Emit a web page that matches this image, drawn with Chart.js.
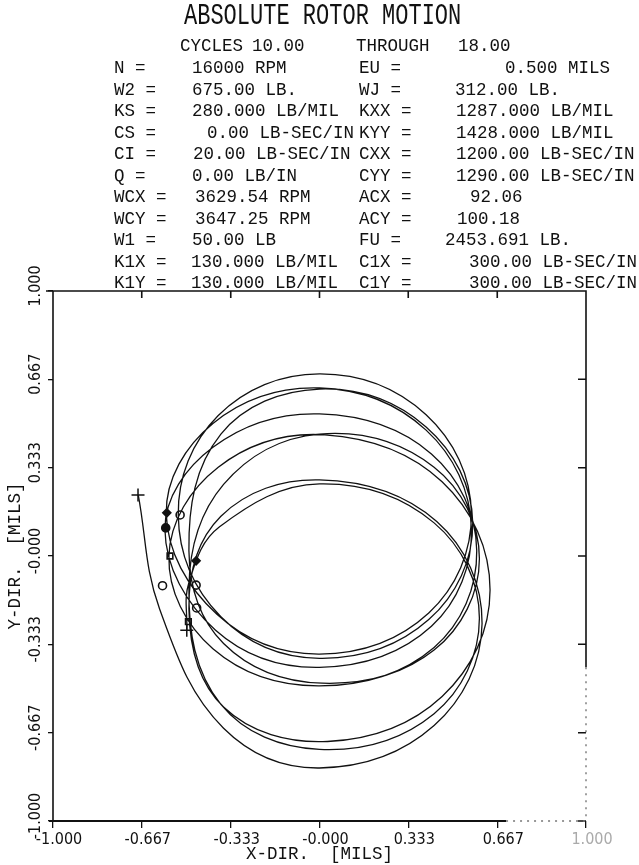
<!DOCTYPE html>
<html>
<head>
<meta charset="utf-8">
<script src="https://cdn.jsdelivr.net/npm/chart.js@4.4.1/dist/chart.umd.min.js"></script>
<style>
body{margin:0;background:#fff}
#wrap{position:relative;width:639px;height:865px;overflow:hidden;background:#fff}
#c{position:absolute;left:0;top:0}
.t{position:absolute;white-space:pre;font-family:"Liberation Mono","DejaVu Sans Mono",monospace;font-size:17.5px;line-height:20px;color:#111}
.big{font-size:22px;line-height:24px;transform:scale(1,1.3);transform-origin:0 0}
</style>
</head>
<body>
<div id="wrap"><canvas id="c" width="639" height="865"></canvas></div>
<script>
// rotor orbit, cycles 10 -> 18 (mils)
const orbit=[
[-0.68,0.23],[-0.60,-0.20],[-0.36,-0.65],[0.00,-0.80],
[0.43,-0.64],[0.61,-0.255],[0.44,0.13],[0.00,0.287],[-0.37,0.15],
[-0.49,-0.20],[-0.36,-0.57],[0.03,-0.70],[0.46,-0.53],[0.64,-0.128],[0.46,0.28],[0.02,0.457],[-0.38,0.335],
[-0.565,0.00],[-0.40,-0.35],[0.00,-0.49],[0.43,-0.345],[0.59,0.02],[0.42,0.385],[0.00,0.536],[-0.40,0.41],
[-0.58,0.10],[-0.39,-0.28],[0.00,-0.42],[0.42,-0.265],[0.57,0.105],[0.40,0.475],[0.00,0.634],[-0.40,0.50],
[-0.575,0.16],[-0.385,-0.22],[0.00,-0.37],[0.41,-0.215],[0.57,0.16],[0.40,0.533],[0.00,0.687],[-0.38,0.53],
[-0.53,0.155],[-0.37,-0.229],[0.00,-0.386],[0.41,-0.24],[0.575,0.125],[0.40,0.487],[0.00,0.63],[-0.37,0.46],
[-0.49,0.02],[-0.36,-0.33],[0.01,-0.48],[0.43,-0.355],[0.60,-0.01],[0.43,0.335],[0.00,0.46],[-0.36,0.27],
[-0.49,-0.12],[-0.37,-0.56],[0.00,-0.73],[0.43,-0.595],[0.60,-0.235],[0.43,0.125],[0.00,0.272],[-0.375,0.11],
[-0.49,-0.10],[-0.498,-0.28]
]
// once-per-rev marks
const keyX=[-0.573,-0.577,-0.523,-0.561,-0.463,-0.589,-0.463,-0.461,-0.492]
const keyY=[0.163,0.106,0.155,0.00,-0.018,-0.112,-0.11,-0.196,-0.248]
const keyShape=['rectRot','circle','circle','rect','rectRot','circle','circle','circle','rect']
const keyFill=['#111','#111','#fff','#fff','#111','#fff','#fff','#fff','#fff']
// start / end of the run
const startEnd=[[-0.681,0.23],[-0.498,-0.28]]

const xTickVals=[-1,-0.667,-0.333,0,0.333,0.667,1]
const xTickLabels=['-1.000','-0.667','-0.333','-0.000','0.333','0.667','1.000']
const yTickVals=[-1,-0.667,-0.333,0,0.333,0.667,1]
const yTickLabels=['-1.000','-0.667','-0.333','-0.000','0.333','0.667','1.000']

const heading='ABSOLUTE ROTOR MOTION'
const cycles=['CYCLES','10.00','THROUGH','18.00']
const rows=[
['N =','16000 RPM','EU =','0.500 MILS'],
['W2 =','675.00 LB.','WJ =','312.00 LB.'],
['KS =','280.000 LB/MIL','KXX =','1287.000 LB/MIL'],
['CS =','0.00 LB-SEC/IN','KYY =','1428.000 LB/MIL'],
['CI =','20.00 LB-SEC/IN','CXX =','1200.00 LB-SEC/IN'],
['Q =','0.00 LB/IN','CYY =','1290.00 LB-SEC/IN'],
['WCX =','3629.54 RPM','ACX =','92.06'],
['WCY =','3647.25 RPM','ACY =','100.18'],
['W1 =','50.00 LB','FU =','2453.691 LB.'],
['K1X =','130.000 LB/MIL','C1X =','300.00 LB-SEC/IN'],
['K1Y =','130.000 LB/MIL','C1Y =','300.00 LB-SEC/IN']
]

// header text (plain DOM text)
const wrap=document.getElementById('wrap')
const put=(txt,x,y,cls)=>{
  const d=document.createElement('div')
  d.className='t'+(cls?' '+cls:'')
  d.textContent=txt
  d.style.left=x+'px'
  d.style.top=y+'px'
  wrap.appendChild(d)
}
put(heading,184,2,'big')
const cycX=[180,252,356,458]
cycles.forEach((s,i)=>put(s,cycX[i],36))
const leftValX=[192,192,192,207,193,192,195,195,192,191,191]
const rightValX=[505,455,456,456,456,456,470,457,445,469,469]
rows.forEach((r,i)=>{
  const y=58+i*21.5
  put(r[0],114,y)
  put(r[1],leftValX[i],y)
  put(r[2],359,y)
  put(r[3],rightValX[i],y)
})

const tickFont={family:'"Liberation Sans Narrow","DejaVu Sans Condensed","Liberation Sans",sans-serif',size:16}
const monoFont={family:'"Liberation Mono","DejaVu Sans Mono",monospace',size:17.5}

const frame={
  id:'frame',
  afterDraw(chart){
    const {ctx,chartArea:a,scales:{x,y}}=chart
    ctx.save()
    ctx.strokeStyle='#111'
    ctx.lineWidth=1.6
    ctx.beginPath()
    ctx.moveTo(a.left,a.bottom+1)
    ctx.lineTo(a.left,a.top)
    ctx.moveTo(a.left-7,a.top)
    ctx.lineTo(a.right,a.top)
    ctx.lineTo(a.right,y.getPixelForValue(-0.42))
    xTickVals.forEach(v=>{const p=x.getPixelForValue(v);ctx.moveTo(p,a.top);ctx.lineTo(p,a.top+7)})
    yTickVals.forEach(v=>{const p=y.getPixelForValue(v);ctx.moveTo(a.right,p);ctx.lineTo(a.right-8,p)})
    ctx.stroke()
    ctx.lineWidth=2
    ctx.beginPath()
    ctx.moveTo(a.left-4,a.bottom)
    ctx.lineTo(x.getPixelForValue(0.70),a.bottom)
    ctx.stroke()
    // faint, broken part of the frame (lower right)
    ctx.strokeStyle='#777'
    ctx.lineWidth=1.4
    ctx.setLineDash([2,5])
    ctx.beginPath()
    ctx.moveTo(a.right,y.getPixelForValue(-0.42))
    ctx.lineTo(a.right,a.bottom)
    ctx.moveTo(x.getPixelForValue(0.70),a.bottom)
    ctx.lineTo(a.right,a.bottom)
    ctx.stroke()
    ctx.setLineDash([])
    // rotated y tick labels
    ctx.fillStyle='#111'
    ctx.font=tickFont.size+'px '+tickFont.family
    ctx.textAlign='center'
    ctx.textBaseline='middle'
    yTickVals.forEach((v,i)=>{
      ctx.save()
      ctx.translate(36,y.getPixelForValue(v)-5)
      ctx.rotate(-Math.PI/2)
      ctx.fillText(yTickLabels[i],0,0)
      ctx.restore()
    })
    ctx.restore()
  }
}

new Chart(document.getElementById('c'),{
  type:'scatter',
  data:{
    datasets:[
      {
        data:orbit.map(p=>({x:p[0],y:p[1]})),
        showLine:true,
        tension:0.38,
        borderColor:'#111',
        borderWidth:1.3,
        pointRadius:0,
        fill:false
      },
      {
        data:keyX.map((v,i)=>({x:v,y:keyY[i]})),
        pointStyle:keyShape,
        pointBackgroundColor:keyFill,
        pointBorderColor:'#111',
        pointBorderWidth:1.6,
        pointRadius:4,
        showLine:false
      },
      {
        data:startEnd.map(p=>({x:p[0],y:p[1]})),
        pointStyle:'cross',
        pointBorderColor:'#111',
        pointBorderWidth:1.5,
        pointRadius:6.5,
        showLine:false
      }
    ]
  },
  options:{
    responsive:false,
    animation:false,
    devicePixelRatio:1,
    layout:{padding:{top:291,right:53,left:0,bottom:0}},
    plugins:{legend:{display:false},tooltip:{enabled:false}},
    scales:{
      x:{
        type:'linear',min:-1,max:1,
        afterBuildTicks:s=>{s.ticks=xTickVals.map(v=>({value:v}))},
        afterFit:s=>{s.height=44},
        grid:{drawOnChartArea:false,drawTicks:true,tickLength:7,color:'#111',lineWidth:1.3},
        border:{display:false},
        ticks:{
          padding:2,labelOffset:6,maxRotation:0,autoSkip:false,
          font:tickFont,
          color:c=>c.index===6?'#aaa':'#111',
          callback:(v,i)=>xTickLabels[i]
        },
        title:{display:true,text:'X-DIR.  [MILS]',font:monoFont,color:'#111',padding:{top:0,bottom:0}}
      },
      y:{
        type:'linear',min:-1,max:1,
        afterBuildTicks:s=>{s.ticks=yTickVals.map(v=>({value:v}))},
        afterFit:s=>{s.width=53},
        grid:{drawOnChartArea:false,drawTicks:true,tickLength:5,color:'#111',lineWidth:1.3},
        border:{display:false},
        ticks:{display:false},
        title:{display:true,text:'Y-DIR.  [MILS]',font:monoFont,color:'#111',padding:{top:5,bottom:0}}
      }
    }
  },
  plugins:[frame]
})
</script>
</body>
</html>
